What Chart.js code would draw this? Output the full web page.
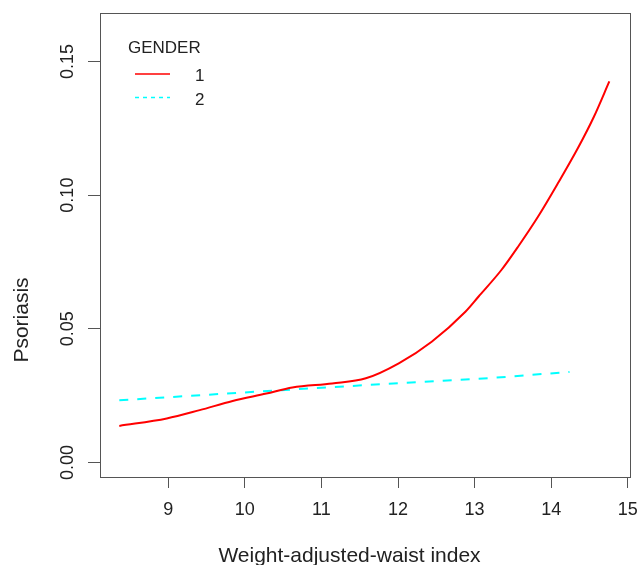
<!DOCTYPE html>
<html><head><meta charset="utf-8">
<script src="https://cdn.jsdelivr.net/npm/chart.js@4.4.1/dist/chart.umd.min.js"></script>
<style>html,body{margin:0;padding:0;background:#fff;} canvas{display:block;}</style>
</head><body>
<canvas id="c" width="640" height="565"></canvas>
<script>
const xTicks = [9, 10, 11, 12, 13, 14, 15];
const xTickLabels = ['9', '10', '11', '12', '13', '14', '15'];
const yTicks = [0, 0.05, 0.10, 0.15];
const yTickLabels = ['0.00', '0.05', '0.10', '0.15'];
const seriesNames = ['1', '2'];
const legendTitle = 'GENDER';
const xTitle = 'Weight-adjusted-waist index';
const yTitle = 'Psoriasis';

const gender1X = [8.36, 8.98, 9.41, 9.84, 10.28, 10.62, 11.14, 11.58, 12.01, 12.44, 12.88, 13.05, 13.35, 13.57, 13.83, 14.09, 14.35, 14.56, 14.76];
const gender1Y = [0.0137, 0.0165, 0.0196, 0.0230, 0.0258, 0.0281, 0.0296, 0.0315, 0.0371, 0.0452, 0.0564, 0.0620, 0.0720, 0.0808, 0.0920, 0.1045, 0.1176, 0.1294, 0.1425];
const gender2X = [8.36, 11.0, 13.26, 14.24];
const gender2Y = [0.0233, 0.0280, 0.0317, 0.0339];

const FONT = 'Liberation Sans, Arial, Helvetica, sans-serif';
const colors = ['#ff0000', '#00ffff'];
const dashes = [[], [9, 9]];

const decorPlugin = {
  id: 'decor',
  afterDraw(chart) {
    const ctx = chart.ctx;
    const a = chart.chartArea;
    ctx.save();
    // box
    ctx.strokeStyle = '#555';
    ctx.lineWidth = 1;
    ctx.strokeRect(Math.round(a.left) + 0.5, Math.round(a.top) + 0.5,
                   Math.round(a.right - a.left) - 1, Math.round(a.bottom - a.top));
    // y tick labels (rotated, R style)
    const ys = chart.scales.y;
    ctx.fillStyle = '#222';
    ctx.font = '18px ' + FONT;
    ctx.textAlign = 'center';
    ctx.textBaseline = 'middle';
    yTicks.forEach((v, i) => {
      const py = ys.getPixelForValue(v);
      ctx.save();
      ctx.translate(68, py);
      ctx.rotate(-Math.PI / 2);
      ctx.fillText(yTickLabels[i], 0, 0);
      ctx.restore();
    });
    // axis titles
    ctx.font = '21px ' + FONT;
    ctx.textBaseline = 'alphabetic';
    ctx.fillText(xTitle, 349.5, 562);
    ctx.save();
    ctx.translate(28, 320);
    ctx.rotate(-Math.PI / 2);
    ctx.fillText(yTitle, 0, 0);
    ctx.restore();
    // legend
    ctx.font = '17px ' + FONT;
    ctx.textAlign = 'left';
    ctx.fillText(legendTitle, 128, 52.5);
    const rowY = [74, 97.5];
    chart.data.datasets.forEach((ds, i) => {
      ctx.strokeStyle = ds.borderColor;
      ctx.lineWidth = 1.5;
      ctx.setLineDash(i === 1 ? [4, 4] : []);
      ctx.beginPath();
      ctx.moveTo(135, rowY[i]);
      ctx.lineTo(170, rowY[i]);
      ctx.stroke();
      ctx.setLineDash([]);
      ctx.fillStyle = '#222';
      ctx.fillText(ds.label, 195, rowY[i] + 7);
    });
    ctx.restore();
  }
};

new Chart(document.getElementById('c').getContext('2d'), {
  type: 'scatter',
  data: {
    datasets: [
      { label: seriesNames[0], data: gender1X.map((x, i) => ({ x, y: gender1Y[i] })),
        showLine: true, borderColor: colors[0], backgroundColor: colors[0], borderWidth: 2,
        borderDash: dashes[0], pointRadius: 0, cubicInterpolationMode: 'monotone', fill: false },
      { label: seriesNames[1], data: gender2X.map((x, i) => ({ x, y: gender2Y[i] })),
        showLine: true, borderColor: colors[1], backgroundColor: colors[1], borderWidth: 2,
        borderDash: dashes[1], borderCapStyle: 'butt', pointRadius: 0, fill: false }
    ]
  },
  options: {
    responsive: false, animation: false, devicePixelRatio: 1,
    layout: { padding: { top: 13, right: 9, left: 0, bottom: 0 } },
    plugins: { legend: { display: false }, tooltip: { enabled: false } },
    scales: {
      x: {
        type: 'linear', min: 8.108, max: 15.043,
        afterBuildTicks: s => { s.ticks = xTicks.map(v => ({ value: v })); },
        afterFit: s => { s.height = 88; s.paddingLeft = 0; s.paddingRight = 0; },
        grid: { drawOnChartArea: false, drawTicks: true, tickLength: 11, color: '#555', tickColor: '#555', tickWidth: 1 },
        border: { display: false },
        ticks: { callback: (v, i) => xTickLabels[i], color: '#222', font: { family: FONT, size: 18 },
                 padding: 11, maxRotation: 0, minRotation: 0, autoSkip: false }
      },
      y: {
        type: 'linear', min: -0.0054, max: 0.1681,
        afterBuildTicks: s => { s.ticks = yTicks.map(v => ({ value: v })); },
        afterFit: s => { s.width = 100; s.paddingTop = 0; s.paddingBottom = 0; },
        grid: { drawOnChartArea: false, drawTicks: true, tickLength: 12, color: '#555', tickColor: '#555', tickWidth: 1 },
        border: { display: false },
        ticks: { display: false }
      }
    }
  },
  plugins: [decorPlugin]
});
</script>
</body></html>
